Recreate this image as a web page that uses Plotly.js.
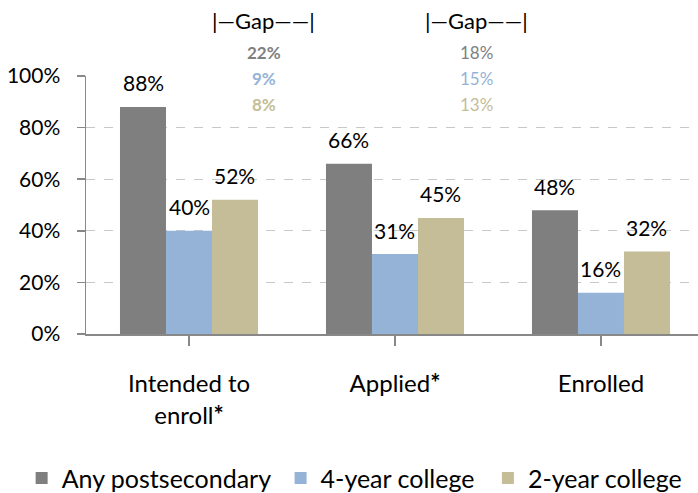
<!DOCTYPE html>
<html><head><meta charset="utf-8">
<script src="https://cdn.plot.ly/plotly-3.0.1.min.js"></script>
<style>html,body{margin:0;padding:0;background:#fff}#chart{width:698px;height:493px}</style>
</head><body><div id="chart"></div>
<script>
const categories = ["Intended to<br>enroll<b>*</b>", "Applied<b>*</b>", "Enrolled"];
const seriesNames = ["Any postsecondary", "4-year college", "2-year college"];
const anyPost = [88, 66, 48];
const fourYear = [40, 31, 16];
const twoYear = [52, 45, 32];
const gapIntended = [22, 9, 8];
const gapApplied = [18, 15, 13];
const yTickVals = [0, 20, 40, 60, 80, 100];
const yTickText = ["0%", "20%", "40%", "60%", "80%", "100%"];

const colors = ["#7f7f7f", "#95b3d7", "#c4bd97"];
const FONT = "Lato, 'Open Sans', sans-serif";
const series = [anyPost, fourYear, twoYear];
const xIdx = categories.map((c, i) => i);
const legendIds = ["legend", "legend2", "legend3"];
const legendX = [0.031, 0.402, 0.699];

const traces = series.map((vals, j) => ({
  type: "bar",
  name: seriesNames[j],
  x: xIdx,
  y: vals,
  legend: legendIds[j],
  marker: {color: colors[j]},
  hoverinfo: "none"
}));

const annotations = [];
const bw = 46 / 206;
series.forEach((vals, j) => {
  vals.forEach((v, i) => {
    annotations.push({
      x: i + (j - 1) * bw, y: v, xref: "x", yref: "y",
      text: v + "%", showarrow: false, yanchor: "middle", yshift: 24,
      font: {family: FONT, size: 21, color: "#000"}
    });
  });
});

function gapBlock(xc, vals, bold) {
  annotations.push({
    x: xc, y: 1.217, xref: "x", yref: "paper", text: "|—Gap——|", showarrow: false,
    yanchor: "middle", font: {family: FONT, size: 22, color: "#000"}
  });
  const ys = [1.093, 0.992, 0.891];
  vals.forEach((v, j) => {
    annotations.push({
      x: xc, y: ys[j], xref: "x", yref: "paper",
      text: bold ? "<b>" + v + "%</b>" : v + "%", showarrow: false, yanchor: "middle",
      font: {family: FONT, size: 17, color: colors[j]}
    });
  });
}
gapBlock(0.364, gapIntended, true);
gapBlock(1.398, gapApplied, false);

const layout = {
  width: 698, height: 493,
  margin: {l: 86, r: 0, t: 76, b: 159},
  paper_bgcolor: "#fff", plot_bgcolor: "#fff",
  barmode: "group", bargap: 0.33, bargroupgap: 0,
  showlegend: true,
  xaxis: {
    range: [-0.5, 2.471],
    tickvals: xIdx, ticktext: categories,
    tickson: "boundaries", ticks: "outside", ticklen: 10, tickcolor: "#888", tickwidth: 1.5,
    ticklabelstandoff: 18, automargin: false,
    showline: true, linecolor: "#888", linewidth: 1.5,
    showgrid: false, zeroline: false,
    tickfont: {family: FONT, size: 24, color: "#000"},
    fixedrange: true
  },
  yaxis: {
    range: [0, 100],
    tickvals: yTickVals, ticktext: yTickText,
    ticks: "outside", ticklen: 8, tickcolor: "#888", tickwidth: 1.5,
    ticklabelstandoff: 12, automargin: false,
    showline: true, linecolor: "#888", linewidth: 1.5,
    showgrid: true, gridcolor: "#c8c8c8", griddash: "dash", gridwidth: 1,
    zeroline: false,
    tickfont: {family: FONT, size: 21, color: "#000"},
    fixedrange: true
  },
  annotations: annotations
};
legendIds.forEach((id, j) => {
  layout[id] = {
    orientation: "h", xref: "container", x: legendX[j], xanchor: "left",
    yref: "container", y: 0.03, yanchor: "middle",
    font: {family: FONT, size: 25, color: "#000"},
    bgcolor: "rgba(0,0,0,0)"
  };
});

Plotly.newPlot("chart", traces, layout, {displayModeBar: false, staticPlot: true});
</script>
</body></html>
